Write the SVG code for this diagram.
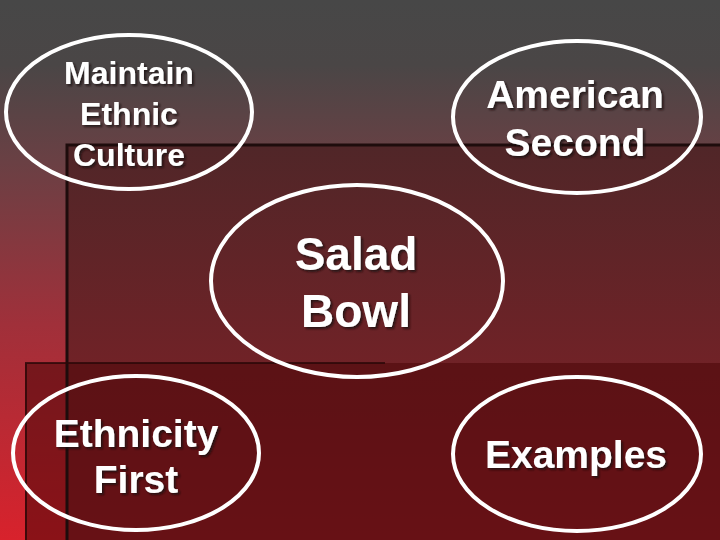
<svg xmlns="http://www.w3.org/2000/svg" width="720" height="540" viewBox="0 0 720 540">
<defs>
<linearGradient id="bg" x1="0" y1="0" x2="0" y2="1">
<stop offset="0" stop-color="#474747"/>
<stop offset="0.12" stop-color="#4a4646"/>
<stop offset="0.3" stop-color="#6a4044"/>
<stop offset="0.6" stop-color="#a0303a"/>
<stop offset="1" stop-color="#d8222c"/>
</linearGradient>
<linearGradient id="r1" x1="0" y1="0" x2="0" y2="1">
<stop offset="0" stop-color="#502628"/>
<stop offset="1" stop-color="#8a1f26"/>
</linearGradient>
<filter id="sh" x="-10%" y="-10%" width="130%" height="140%">
<feDropShadow dx="2" dy="2" stdDeviation="0.8" flood-color="#1a0a0a" flood-opacity="0.8"/>
</filter>
<style>
.node ellipse{fill:none;stroke:#ffffff;stroke-width:4}
.node text{fill:#ffffff;font-family:"Liberation Sans",Arial,sans-serif;font-weight:bold;text-anchor:middle;filter:url(#sh)}
</style>
</defs>
<rect x="0" y="0" width="720" height="540" fill="url(#bg)"/>
<rect x="67" y="145" width="653" height="395" fill="url(#r1)"/>
<rect x="25" y="363" width="695" height="177" fill="#4a0608" fill-opacity="0.55"/>
<path d="M67 540 V145 H720" fill="none" stroke="#1e0c0c" stroke-width="3"/>
<path d="M26 540 V363 H385" fill="none" stroke="#2a0808" stroke-width="2" stroke-opacity="0.8"/>
<g id="connectors"/>
<g id="maintain" class="node">
<ellipse cx="129" cy="112" rx="123" ry="77"/>
<text x="129" y="84" font-size="32">Maintain</text>
<text x="129" y="125" font-size="32">Ethnic</text>
<text x="129" y="166" font-size="32">Culture</text>
</g>
<g id="american" class="node">
<ellipse cx="577" cy="117" rx="124" ry="76"/>
<text x="575" y="108" font-size="39">American</text>
<text x="575" y="156" font-size="39">Second</text>
</g>
<g id="salad" class="node">
<ellipse cx="357" cy="281" rx="146" ry="96"/>
<text x="356" y="270" font-size="46">Salad</text>
<text x="356" y="327" font-size="46">Bowl</text>
</g>
<g id="ethnicity" class="node">
<ellipse cx="136" cy="453" rx="123" ry="77"/>
<text x="136" y="447" font-size="39">Ethnicity</text>
<text x="136" y="493" font-size="39">First</text>
</g>
<g id="examples" class="node">
<ellipse cx="577" cy="454" rx="124" ry="77"/>
<text x="576" y="468" font-size="39">Examples</text>
</g>
</svg>
